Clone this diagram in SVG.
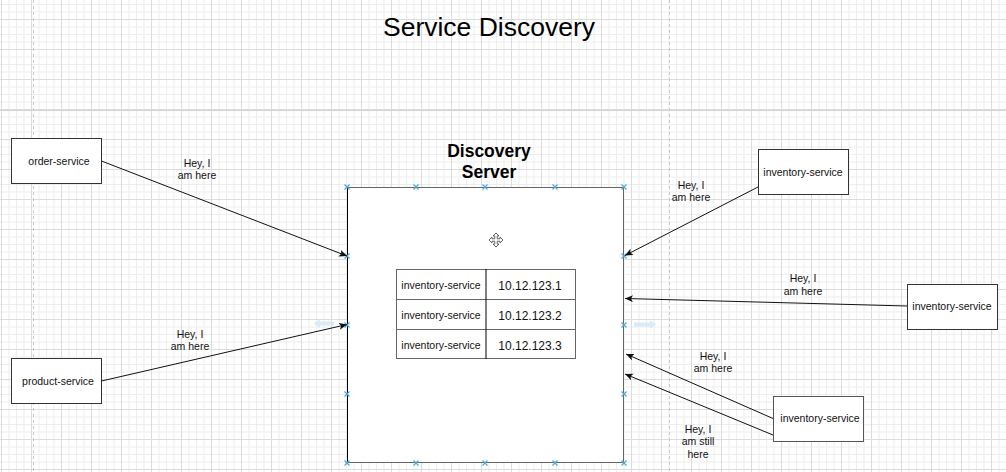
<svg xmlns="http://www.w3.org/2000/svg" width="1006" height="472" viewBox="0 0 1006 472">
<style>
text{font-family:"Liberation Sans",Arial,sans-serif;fill:#111}
.lbl{font-size:10.5px;text-anchor:middle}
.box{fill:#fff;stroke:#333;stroke-width:1}
.edge{fill:none;stroke:#111;stroke-width:1}
.cp{stroke:#4aa8e0;stroke-width:1.2}
.cell{font-size:10.5px;text-anchor:middle}
.ip{font-size:12px;text-anchor:middle}
</style>
<defs>
<pattern id="grid" patternUnits="userSpaceOnUse" x="1" y="19" width="30" height="30">
<rect x="7.5" y="0" width="1" height="30" fill="#eeeeee"/>
<rect x="15" y="0" width="1" height="30" fill="#eeeeee"/>
<rect x="22.5" y="0" width="1" height="30" fill="#eeeeee"/>
<rect x="0" y="7.5" width="30" height="1" fill="#eeeeee"/>
<rect x="0" y="15" width="30" height="1" fill="#eeeeee"/>
<rect x="0" y="22.5" width="30" height="1" fill="#eeeeee"/>
<rect x="0" y="0" width="1" height="30" fill="#dcdcdc"/>
<rect x="0" y="0" width="30" height="1" fill="#dcdcdc"/>
</pattern>
<marker id="arr" markerUnits="userSpaceOnUse" markerWidth="10" markerHeight="8" refX="8" refY="3.5" orient="auto">
<path d="M0,0 L8,3.5 L0,7 L2,3.5 Z" fill="#111"/>
</marker>
<g id="xmark"><path d="M-2.5,-2.5 L2.5,2.5 M-2.5,2.5 L2.5,-2.5" class="cp"/></g>
</defs>
<rect width="1006" height="472" fill="#fff"/>
<rect width="1006" height="472" fill="url(#grid)"/>
<line x1="33.5" y1="0" x2="33.5" y2="472" stroke="#c8c8c8" stroke-dasharray="3,3"/>
<line x1="669.5" y1="0" x2="669.5" y2="472" stroke="#c8c8c8" stroke-dasharray="3,3"/>
<line x1="0" y1="110.5" x2="1006" y2="110.5" stroke="#d4d4d4"/>

<g id="title"><text x="489" y="36" font-size="26.5px" text-anchor="middle" style="fill:#000">Service Discovery</text></g>

<g id="discovery-server">
<text x="489" y="157" font-size="17.5px" font-weight="bold" text-anchor="middle" style="fill:#000">Discovery</text>
<text x="489" y="178" font-size="17.5px" font-weight="bold" text-anchor="middle" style="fill:#000">Server</text>
<rect x="347.5" y="187.5" width="276" height="275" fill="#fff" stroke="#666"/>
<line x1="347.5" y1="187" x2="347.5" y2="463" stroke="#000"/>
<g id="move-cursor" transform="translate(496,240)" fill="#fff" stroke="#555" stroke-width="0.9">
<path d="M0,-7 L3,-4 L1.2,-4 L1.2,-1.2 L4,-1.2 L4,-3 L7,0 L4,3 L4,1.2 L1.2,1.2 L1.2,4 L3,4 L0,7 L-3,4 L-1.2,4 L-1.2,1.2 L-4,1.2 L-4,3 L-7,0 L-4,-3 L-4,-1.2 L-1.2,-1.2 L-1.2,-4 L-3,-4 Z"/>
</g>
<g id="registry-table">
<rect x="396.5" y="269.5" width="179" height="89" fill="#fff" stroke="#666"/>
<line x1="396" y1="299.5" x2="576" y2="299.5" stroke="#666"/>
<line x1="396" y1="329.5" x2="576" y2="329.5" stroke="#666"/>
<line x1="486" y1="269" x2="486" y2="359" stroke="#000"/>
<text class="cell" x="441" y="289">inventory-service</text>
<text class="cell" x="441" y="319">inventory-service</text>
<text class="cell" x="441" y="349">inventory-service</text>
<text class="ip" x="530" y="289.5">10.12.123.1</text>
<text class="ip" x="530" y="319.5">10.12.123.2</text>
<text class="ip" x="530" y="349.5">10.12.123.3</text>
</g>
<g id="connection-points">
<use href="#xmark" x="347" y="187"/><use href="#xmark" x="416" y="187"/><use href="#xmark" x="485" y="187"/><use href="#xmark" x="555" y="187"/><use href="#xmark" x="624" y="187"/>
<use href="#xmark" x="347" y="463"/><use href="#xmark" x="416" y="463"/><use href="#xmark" x="485" y="463"/><use href="#xmark" x="555" y="463"/><use href="#xmark" x="624" y="463"/>
<use href="#xmark" x="347" y="256"/><use href="#xmark" x="347" y="325"/><use href="#xmark" x="347" y="394"/>
<use href="#xmark" x="624" y="256"/><use href="#xmark" x="624" y="325"/><use href="#xmark" x="624" y="394"/>
</g>
<g id="hover-arrows" fill="#cfe6f5" opacity="0.8">
<path d="M314,323.5 L320,319 L320,321.5 L334,321.5 L334,325.5 L320,325.5 L320,328 Z"/>
<path d="M656,324.5 L650,320 L650,322.5 L634,322.5 L634,326.5 L650,326.5 L650,329 Z"/>
</g>
</g>

<g id="order-service"><rect class="box" x="11.5" y="138.5" width="90" height="45"/><text class="lbl" x="59" y="165">order-service</text></g>
<g id="product-service"><rect class="box" x="11.5" y="358.5" width="90" height="45"/><text class="lbl" x="58" y="385">product-service</text></g>
<g id="inventory-service-1"><rect class="box" x="758.5" y="149.5" width="90" height="45"/><text class="lbl" x="803" y="176">inventory-service</text></g>
<g id="inventory-service-2"><rect class="box" x="907.5" y="284.5" width="90" height="45"/><text class="lbl" x="952" y="310">inventory-service</text></g>
<g id="inventory-service-3"><rect class="box" x="773.5" y="396.5" width="90" height="45" style="stroke:#555"/><text class="lbl" x="820" y="422">inventory-service</text></g>

<g id="connectors">
<line class="edge" x1="101.5" y1="161" x2="347" y2="256" marker-end="url(#arr)"/>
<line class="edge" x1="101.5" y1="381" x2="347" y2="324.5" marker-end="url(#arr)"/>
<line class="edge" x1="758" y1="187" x2="625" y2="255.5" marker-end="url(#arr)"/>
<line class="edge" x1="907" y1="306" x2="625" y2="298.5" marker-end="url(#arr)"/>
<line class="edge" x1="773" y1="418.5" x2="626" y2="354" marker-end="url(#arr)"/>
<line class="edge" x1="773" y1="435" x2="625" y2="374" marker-end="url(#arr)"/>
<g id="edge-labels">
<text class="lbl" x="197" y="166.5">Hey, I</text><text class="lbl" x="197" y="179">am here</text>
<text class="lbl" x="190" y="337.5">Hey, I</text><text class="lbl" x="190" y="350">am here</text>
<text class="lbl" x="691" y="188.5">Hey, I</text><text class="lbl" x="691" y="201">am here</text>
<text class="lbl" x="803" y="282">Hey, I</text><text class="lbl" x="803" y="294.5">am here</text>
<text class="lbl" x="713" y="359.5">Hey, I</text><text class="lbl" x="713" y="372">am here</text>
<text class="lbl" x="698" y="432.5">Hey, I</text><text class="lbl" x="698" y="445">am still</text><text class="lbl" x="698" y="457.5">here</text>
</g>
</g>
</svg>
